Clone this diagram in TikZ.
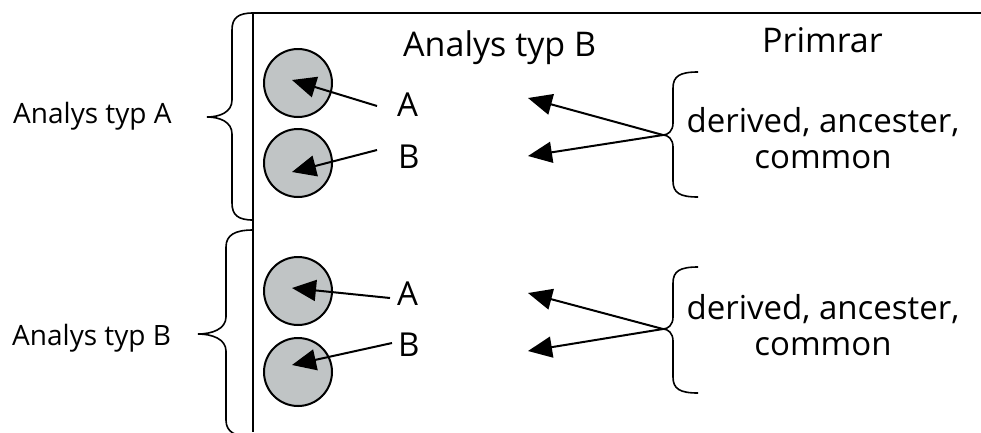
\documentclass[tikz,border=0pt]{standalone}
\usepackage{fontspec}
\setmainfont{Open Sans}
\usetikzlibrary{arrows.meta,calc}
\definecolor{circgray}{RGB}{192,196,197}
\begin{document}
\begin{tikzpicture}[x=1pt,y=-1pt,
  frameln/.style={line width=2pt, draw=black},
  bracel/.style={line width=1.6pt, draw=black},
  arr/.style={line width=2pt, draw=black, -{Triangle[length=24pt,width=21pt]}},
  disc/.style={circle, draw=black, line width=2pt, fill=circgray, minimum size=68pt, inner sep=0pt},
  sidelbl/.style={font=\fontsize{28}{30}\selectfont, anchor=base west, inner sep=0pt},
  titlelbl/.style={font=\fontsize{34}{36}\selectfont, anchor=base west, inner sep=0pt},
  letterlbl/.style={font=\fontsize{33}{34}\selectfont, anchor=base west, inner sep=0pt},
  primlbl/.style={font=\fontsize{33}{36}\selectfont, anchor=base, align=center, inner sep=0pt}]
\useasboundingbox (0,0) rectangle (981,432);

% frame
\coordinate (fTL) at (253,13);
\coordinate (fTR) at (981,13);
\coordinate (fBL) at (253,432);
\draw[frameln] (fTR) -- (fTL) -- (fBL);

% headings
\node[titlelbl] (hB) at (403,56) {Analys typ B};
\node[titlelbl] (hP) at (762,52) {Primrar};

% left labels
\node[sidelbl] (lA) at (13,123) {Analys typ A};
\node[sidelbl] (lB) at (12,345) {Analys typ B};

% left braces
\draw[bracel] (253,13) .. controls (238,13) and (232,18) .. (232,30) -- (232,100)
  .. controls (232,112) and (220,117) .. (207,117)
  .. controls (220,117) and (232,122) .. (232,134) -- (232,203)
  .. controls (232,215) and (238,220) .. (253,220);
\draw[bracel] (253,230) .. controls (235,230) and (226,235) .. (226,247) -- (226,317)
  .. controls (226,329) and (212,334) .. (198,334)
  .. controls (212,334) and (226,339) .. (226,351) -- (226,420)
  .. controls (226,432) and (235,437) .. (253,437);

% circles
\node[disc] (c1) at (298,83) {};
\node[disc] (c2) at (298,163) {};
\node[disc] (c3) at (298,291) {};
\node[disc] (c4) at (298,372) {};

% letters
\node[letterlbl] (tA1) at (397,116) {A};
\node[letterlbl] (tB1) at (398,168) {B};
\node[letterlbl] (tA2) at (397,305) {A};
\node[letterlbl] (tB2) at (398,356) {B};

\coordinate (s1) at (377,106); \coordinate (e1) at (292,80);
\coordinate (s2) at (377,150); \coordinate (e2) at (292,172);
\coordinate (s3) at (390,298); \coordinate (e3) at (292,288);
\coordinate (s4) at (392,343); \coordinate (e4) at (292,365);
\draw[arr] (s1) -- (e1);
\draw[arr] (s2) -- (e2);
\draw[arr] (s3) -- (e3);
\draw[arr] (s4) -- (e4);

% right braces
\coordinate (rt1) at (663,135);
\coordinate (rt2) at (663,329);
\draw[bracel] (698,72) .. controls (680,72) and (673,76) .. (673,88) -- (673,123)
  .. controls (673,131) and (668,135) .. (rt1)
  .. controls (668,135) and (673,139) .. (673,147) -- (673,181)
  .. controls (673,193) and (680,197) .. (698,197);
\draw[bracel] (698,267) .. controls (680,267) and (673,271) .. (673,283) -- (673,317)
  .. controls (673,325) and (668,329) .. (rt2)
  .. controls (668,329) and (673,333) .. (673,341) -- (673,377)
  .. controls (673,389) and (680,393) .. (698,393);

\node[primlbl] (p1) at (823,168) {derived, ancester,\\common};
\node[primlbl] (p2) at (823,355) {derived, ancester,\\common};

\coordinate (a1) at (528,98);
\coordinate (a2) at (528,156);
\coordinate (a3) at (528,293);
\coordinate (a4) at (528,351);
\draw[arr] (rt1) -- (a1);
\draw[arr] (rt1) -- (a2);
\draw[arr] (rt2) -- (a3);
\draw[arr] (rt2) -- (a4);
\end{tikzpicture}
\end{document}
